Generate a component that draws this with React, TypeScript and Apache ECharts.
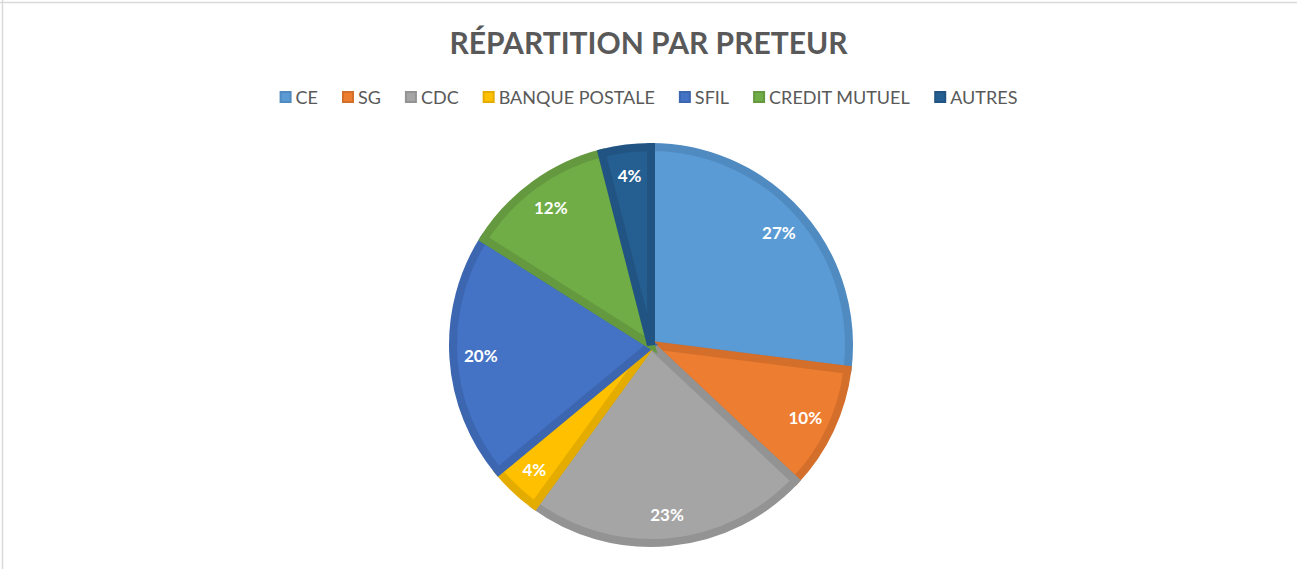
import React, { useEffect, useRef } from "react";
import * as echarts from "echarts";

const categories = ["CE", "SG", "CDC", "BANQUE POSTALE", "SFIL", "CREDIT MUTUEL", "AUTRES"];
const values = [27, 10, 23, 4, 20, 12, 4];
const labels = ["27%", "10%", "23%", "4%", "20%", "12%", "4%"];
const colors = ["#5B9BD5", "#ED7D31", "#A5A5A5", "#FFC000", "#4472C4", "#70AD47", "#255E91"];
const borderColors = ["#4F8BC0", "#D46F2B", "#939393", "#E5AC00", "#3D66B0", "#64993F", "#215482"];

const FONT = "Lato, 'Open Sans', sans-serif";

export default function App() {
  const ref = useRef<HTMLDivElement>(null);
  useEffect(() => {
    document.body.style.margin = "0";
    const chart = echarts.init(ref.current!, undefined, { renderer: "svg" });
    chart.setOption({
      animation: false,
      backgroundColor: "#ffffff",
      title: {
        text: "RÉPARTITION PAR PRETEUR",
        left: "center",
        top: 22,
        textStyle: { fontFamily: FONT, fontSize: 30, fontWeight: "bold", color: "#595959" },
      },
      legend: {
        data: categories,
        top: 83,
        left: "center",
        icon: "rect",
        itemWidth: 10,
        itemHeight: 10,
        itemGap: 24,
        textStyle: { fontFamily: FONT, fontSize: 18, color: "#595959" },
      },
      graphic: [
        { type: "line", shape: { x1: 0, y1: 2.5, x2: 1297, y2: 2.5 }, style: { stroke: "#d9d9d9", lineWidth: 1.5 } },
        { type: "line", shape: { x1: 2.5, y1: 0, x2: 2.5, y2: 569 }, style: { stroke: "#d9d9d9", lineWidth: 1.5 } },
      ],
      series: [
        {
          type: "pie",
          center: [651, 345],
          radius: [0, 198],
          startAngle: 90,
          clockwise: true,
          data: categories.map((c, i) => ({
            name: c,
            value: values[i],
            itemStyle: { color: colors[i], borderColor: borderColors[i], borderWidth: 8, borderJoin: "miter" },
          })),
          label: { show: false },
          labelLine: { show: false },
          silent: true,
        },
        {
          type: "pie",
          center: [651, 345],
          radius: [0, 335],
          startAngle: 90,
          clockwise: true,
          silent: true,
          legendHoverLink: false,
          data: categories.map((c, i) => ({
            name: c,
            value: values[i],
            itemStyle: { color: "rgba(0,0,0,0)", borderWidth: 0 },
            label: { formatter: labels[i] },
          })),
          label: {
            show: true,
            position: "inside",
            fontFamily: FONT,
            fontSize: 17,
            fontWeight: "bold",
            color: "#ffffff",
          },
          labelLine: { show: false },
        },
      ],
    });
    return () => chart.dispose();
  }, []);
  return <div ref={ref} style={{ width: 1297, height: 569 }} />;
}
